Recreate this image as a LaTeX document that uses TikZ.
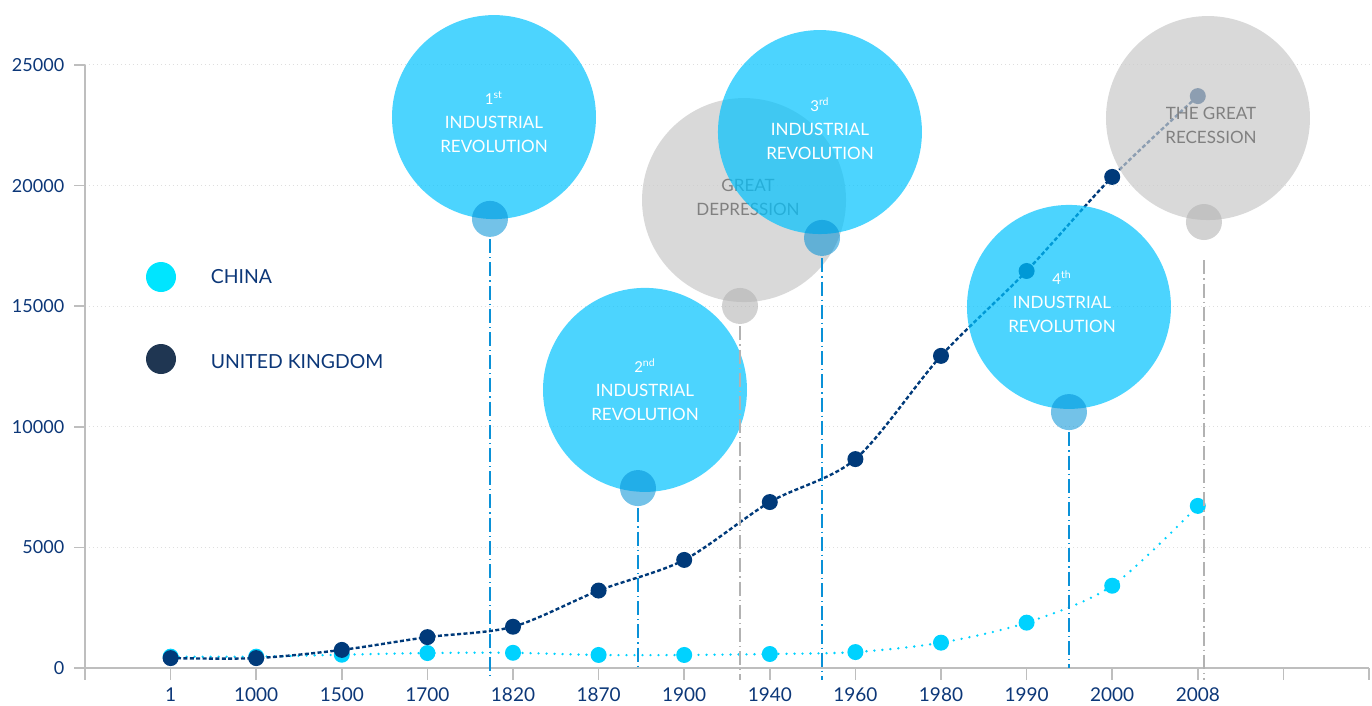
\documentclass[tikz,border=0pt]{standalone}
\usepackage{fontspec}
\setmainfont{Lato}
\usetikzlibrary{positioning}
\definecolor{ukblue}{RGB}{0,58,122}
\definecolor{chinacyan}{RGB}{0,210,255}
\definecolor{keyuk}{RGB}{31,54,82}
\definecolor{keychina}{RGB}{0,229,255}
\definecolor{labelblue}{RGB}{12,55,120}
\definecolor{bubblecyan}{RGB}{0,194,254}
\definecolor{knobblue}{RGB}{0,143,213}
\definecolor{bubblegray}{RGB}{201,201,201}
\definecolor{knobgray}{RGB}{180,180,180}
\definecolor{leaderblue}{RGB}{10,145,215}
\definecolor{leadergray}{RGB}{178,178,178}
\definecolor{axisgray}{RGB}{190,190,190}
\definecolor{gridgray}{RGB}{222,222,222}
\newcommand\ordsize{\fontsize{7.5}{8}\selectfont}
\begin{document}
\begin{tikzpicture}[x=42.8pt,y=12.06pt,
	gridline/.style={gridgray,line width=.5pt,dash pattern=on .6pt off 1.4pt},
	axisline/.style={axisgray,line width=.8pt},
	ylab/.style={left,inner sep=0pt,text=labelblue,font=\fontsize{9}{10}\selectfont},
	xlab/.style={inner sep=0pt,text=labelblue,font=\fontsize{9.5}{10}\selectfont},
	ukdot/.style={circle,fill=ukblue,inner sep=0pt,minimum size=8pt},
	chinadot/.style={circle,fill=chinacyan,inner sep=0pt,minimum size=8pt},
	keydot/.style={circle,inner sep=0pt,minimum size=15pt},
	keytext/.style={inner sep=0pt,text=labelblue,font=\fontsize{9.7}{12}\selectfont},
	bubble/.style={circle,fill=bubblecyan,fill opacity=.7,inner sep=0pt,minimum size=102pt},
	graybubble/.style={bubble,fill=bubblegray},
	bubbletext/.style={inner sep=0pt,text=white,align=center,font=\fontsize{8.5}{12}\selectfont},
	graytext/.style={bubbletext,text=black!50},
	knob/.style={circle,fill=knobblue,fill opacity=.55,inner sep=0pt,minimum size=18pt},
	grayknob/.style={knob,fill=knobgray,fill opacity=.6},
	leader/.style={leaderblue,line width=.8pt,dash pattern=on 7pt off 2pt on .6pt off 2pt},
	grayleader/.style={leader,leadergray}]
	\useasboundingbox (-42.5pt,-19pt) rectangle (643.5pt,334pt);
	% grid and axes
	\foreach \v in {5,10,...,25} \draw[gridline] (0,\v) -- (15.03,\v);
	\draw[axisline] (0,25) -- (0,-.5);
	\draw[axisline] (0,0) -- (15,0);
	\foreach \i in {1,...,15} \draw[axisline] (\i,0) -- (\i,-.5);
	\foreach \v/\t in {0/0,5/5000,10/10000,15/15000,20/20000,25/25000}
		\draw[axisline] (0,\v) -- ++(-5.5pt,0) node[ylab,xshift=-4.5pt] (ylab\v) {\t};
	\foreach \i/\yr in {1/1,2/1000,3/1500,4/1700,5/1820,6/1870,7/1900,8/1940,9/1960,10/1980,11/1990,12/2000,13/2008}
		\node[xlab] (xlab\i) at (\i,-1.12) {\yr};
	\coordinate (axisend) at (0,0);
	\coordinate (tickend) at (0,-.5);
	% legend
	\node[keydot,fill=keychina] (chinakey) at (.888,16.21) {};
	\node[keytext,right=17pt of chinakey] (chinatext) {CHINA};
	\node[keydot,fill=keyuk] (ukkey) at (.888,12.81) {};
	\node[keytext,right=17pt of ukkey,yshift=-1.5pt] (uktext) {UNITED KINGDOM};
	% data
	\foreach \i/\v in {1/.47,2/.47,3/.55,4/.62,5/.63,6/.54,7/.54,8/.58,9/.66,10/1.05,11/1.88,12/3.41,13/6.72}
		\coordinate (cn\i) at (\i,\v);
	\foreach \i/\v in {1/.41,2/.41,3/.75,4/1.28,5/1.71,6/3.21,7/4.48,8/6.88,9/8.66,10/12.94,11/16.46,12/20.36,13/23.71}
		\coordinate (uk\i) at (\i,\v);
	\draw[chinacyan,line width=1.3pt,line cap=round,dash pattern=on 0pt off 4pt,smooth,tension=.5]
		plot coordinates {(cn1) (cn2) (cn3) (cn4) (cn5) (cn6) (cn7) (cn8) (cn9) (cn10) (cn11) (cn12) (cn13)};
	\foreach \i in {1,...,13} \node[chinadot] (cndot\i) at (cn\i) {};
	\draw[ukblue,line width=1.2pt,dash pattern=on 2pt off 1.2pt,smooth,tension=.5]
		plot coordinates {(uk1) (uk2) (uk3) (uk4) (uk5) (uk6) (uk7) (uk8) (uk9) (uk10) (uk11) (uk12) (uk13)};
	\foreach \i in {1,...,13} \node[ukdot] (ukdot\i) at (uk\i) {};
	% events
	\node[bubble] (ir1) at (4.778,22.84) {};
	\node[bubbletext] (ir1text) at ([yshift=-2.5pt]ir1) {{\ordsize 1\textsuperscript{st}}\\INDUSTRIAL\\REVOLUTION};
	\node[knob] (ir1k) at (4.731,18.62) {};
	\node[bubble] (ir2) at (6.542,11.53) {};
	\node[bubbletext] (ir2text) at (ir2) {{\ordsize 2\textsuperscript{nd}}\\INDUSTRIAL\\REVOLUTION};
	\node[knob] (ir2k) at (6.46,7.46) {};
	\node[graybubble] (dep) at (7.699,19.4) {};
	\node[graytext] (deptext) at ([shift={(2pt,1.5pt)}]dep) {GREAT\\DEPRESSION};
	\node[grayknob] (depk) at (7.652,15.01) {};
	\node[bubble] (ir3) at (8.586,22.22) {};
	\node[bubbletext] (ir3text) at ([yshift=1.75pt]ir3) {{\ordsize 3\textsuperscript{rd}}\\INDUSTRIAL\\REVOLUTION};
	\node[knob] (ir3k) at (8.61,17.83) {};
	\node[bubble] (ir4) at (11.495,14.97) {};
	\node[bubbletext] (ir4text) at ([shift={(-3.5pt,2.5pt)}]ir4) {{\ordsize 4\textsuperscript{th}}\\INDUSTRIAL\\REVOLUTION};
	\node[knob] (ir4k) at (11.495,10.61) {};
	\node[graybubble] (rec) at (13.119,22.8) {};
	\node[graytext] (rectext) at ([shift={(1.5pt,-3.75pt)}]rec) {THE GREAT\\RECESSION};
	\node[grayknob] (reck) at (13.072,18.49) {};
	\draw[leader] ([yshift=-1pt]ir1k.south) -- (ir1k.south |- tickend);
	\draw[leader] ([yshift=-1pt]ir2k.south) -- (ir2k.south |- axisend);
	\draw[grayleader] ([yshift=-1pt]depk.south) -- (depk.south |- tickend);
	\draw[leader] ([yshift=-1pt]ir3k.south) -- (ir3k.south |- tickend);
	\draw[leader] ([yshift=-1pt]ir4k.south) -- (ir4k.south |- axisend);
	\draw[grayleader] ([yshift=-10pt]reck.south) -- (reck.south |- tickend);
\end{tikzpicture}
\end{document}
